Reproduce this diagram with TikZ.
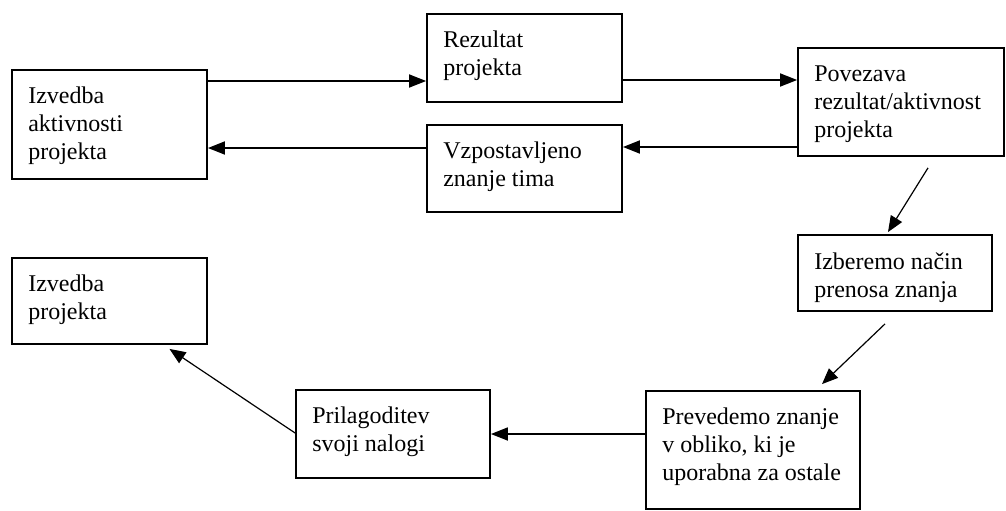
\documentclass[tikz,border=0pt]{standalone}
\usepackage{fontspec}
\setmainfont{Liberation Serif}
\usetikzlibrary{arrows.meta}
\begin{document}
\begin{tikzpicture}[x=1pt,y=-1pt,
  box/.style={draw, line width=1.8pt, rectangle, inner sep=0pt},
  lbl/.style={anchor=north west, inner sep=0pt, align=left,
    font=\fontsize{24}{28}\selectfont, xshift=17pt, yshift=-18pt},
  arr/.style={line width=1.8pt, -{Triangle[length=17pt,width=13pt]}},
  darr/.style={line width=1.2pt, -{Triangle[length=16pt,width=13pt]}}]
\fill[white] (0,0) rectangle (1006,511);
\useasboundingbox (0,0) rectangle (1006,511);
% boxes
\node[box, minimum width=195pt, minimum height=109pt] (b1) at (109.5,124.5) {};
\node[box, minimum width=195pt, minimum height=88pt]  (b2) at (524.5,58) {};
\node[box, minimum width=195pt, minimum height=87pt]  (b4) at (524.5,168.5) {};
\node[box, minimum width=206pt, minimum height=108pt] (b3) at (901,102) {};
\node[box, minimum width=194pt, minimum height=76pt]  (b5) at (895,273) {};
\node[box, minimum width=195pt, minimum height=86pt]  (b6) at (109.5,301) {};
\node[box, minimum width=194pt, minimum height=88pt]  (b7) at (393,434) {};
\node[box, minimum width=214pt, minimum height=118pt] (b8) at (753,450) {};
% labels
\node[lbl] (t1) at (b1.north west) {Izvedba\\aktivnosti\\projekta};
\node[lbl] (t2) at (b2.north west) {Rezultat\\projekta};
\node[lbl] (t3) at (b3.north west) {Povezava\\rezultat/aktivnost\\projekta};
\node[lbl] (t4) at (b4.north west) {Vzpostavljeno\\znanje tima};
\node[lbl] (t5) at (b5.north west) {Izberemo način\\prenosa znanja};
\node[lbl] (t6) at (b6.north west) {Izvedba\\projekta};
\node[lbl] (t7) at (b7.north west) {Prilagoditev\\svoji nalogi};
\node[lbl] (t8) at (b8.north west) {Prevedemo znanje\\v obliko, ki je\\uporabna za ostale};
% connectors
\draw[arr] ([yshift=43.5pt]b1.east) -- ([yshift=-23pt]b2.west);
\draw[arr] ([yshift=-22pt]b2.east) -- ([yshift=22pt]b3.west);
\draw[arr] ([yshift=-45pt]b3.west) -- ([yshift=21.5pt]b4.east);
\draw[arr] ([yshift=20.5pt]b4.west) -- ([yshift=-23.5pt]b1.east);
\draw[darr] ([xshift=27pt,yshift=-11pt]b3.south) -- ([xshift=-7pt,yshift=2pt]b5.north);
\draw[darr] ([xshift=-10pt,yshift=-12pt]b5.south) -- ([xshift=69pt,yshift=6pt]b8.north);
\draw[arr] ([yshift=16pt]b8.west) -- (b7.east);
\draw[darr] ([yshift=1pt]b7.west) -- ([xshift=60pt,yshift=-4pt]b6.south);
\end{tikzpicture}
\end{document}
